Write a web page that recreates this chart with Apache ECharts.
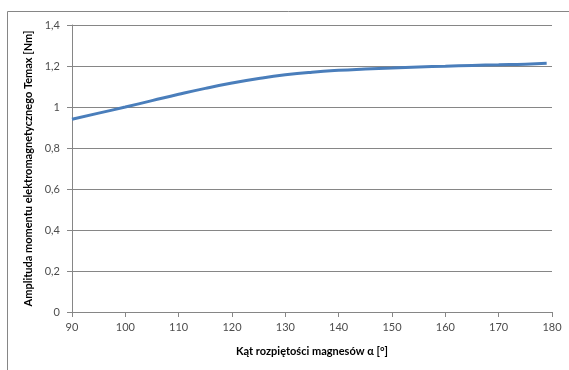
<!DOCTYPE html>
<html>
<head>
<meta charset="utf-8">
<script src="https://cdn.jsdelivr.net/npm/echarts@6/dist/echarts.min.js"></script>
<style>html,body{margin:0;padding:0;background:#fff}#c{width:569px;height:370px}</style>
</head>
<body>
<div id="c"></div>
<script>
const angles = [90, 95, 100, 105, 110, 115, 120, 125, 130, 135, 140, 145, 150, 155, 160, 165, 170, 175, 179];
const torque = [0.94, 0.97, 1.0, 1.031, 1.062, 1.091, 1.117, 1.139, 1.157, 1.170, 1.179, 1.185, 1.190, 1.195, 1.199, 1.203, 1.206, 1.209, 1.213];
const yTickLabels = {0:'0', 0.2:'0,2', 0.4:'0,4', 0.6:'0,6', 0.8:'0,8', 1:'1', 1.2:'1,2', 1.4:'1,4'};
const xTitle = 'Kąt rozpiętości magnesów α [°]';
const yTitle = 'Amplituda momentu elektromagnetycznego Temax [Nm]';

const chart = echarts.init(document.getElementById('c'));
const font = 'Lato, "Open Sans", sans-serif';
chart.setOption({
  animation: false,
  graphic: [{
    type: 'rect', shape: {x: 7.5, y: 11.5, width: 700, height: 500},
    style: {fill: 'none', stroke: '#868686', lineWidth: 1}, silent: true
  }],
  grid: {left: 72, right: 17, top: 25, bottom: 58},
  xAxis: {
    type: 'value', min: 90, max: 180, interval: 10,
    name: xTitle, nameLocation: 'middle', nameGap: 34,
    nameTextStyle: {fontFamily: font, fontSize: 11, fontWeight: 'bold', color: '#000'},
    axisLine: {show: true, lineStyle: {color: '#868686'}},
    axisTick: {show: true, length: 5, inside: false, lineStyle: {color: '#868686'}},
    axisLabel: {fontFamily: font, fontSize: 11, color: '#4d4d4d', margin: 10},
    splitLine: {show: false}
  },
  yAxis: {
    type: 'value', min: 0, max: 1.4, interval: 0.2,
    name: yTitle, nameLocation: 'middle', nameGap: 36,
    nameTextStyle: {fontFamily: font, fontSize: 11, fontWeight: 'bold', color: '#000'},
    axisLine: {show: true, lineStyle: {color: '#868686'}},
    axisTick: {show: true, length: 5, lineStyle: {color: '#868686'}},
    axisLabel: {fontFamily: font, fontSize: 11, color: '#4d4d4d', margin: 12,
      formatter: v => { const k = Math.round(v*10)/10; return yTickLabels[k] !== undefined ? yTickLabels[k] : String(v).replace('.', ','); }},
    splitLine: {show: true, lineStyle: {color: '#868686', width: 1}}
  },
  series: [{
    type: 'line', smooth: true, showSymbol: false,
    data: angles.map((a, i) => [a, torque[i]]),
    lineStyle: {color: '#4a7ebb', width: 3}
  }]
});
</script>
</body>
</html>
